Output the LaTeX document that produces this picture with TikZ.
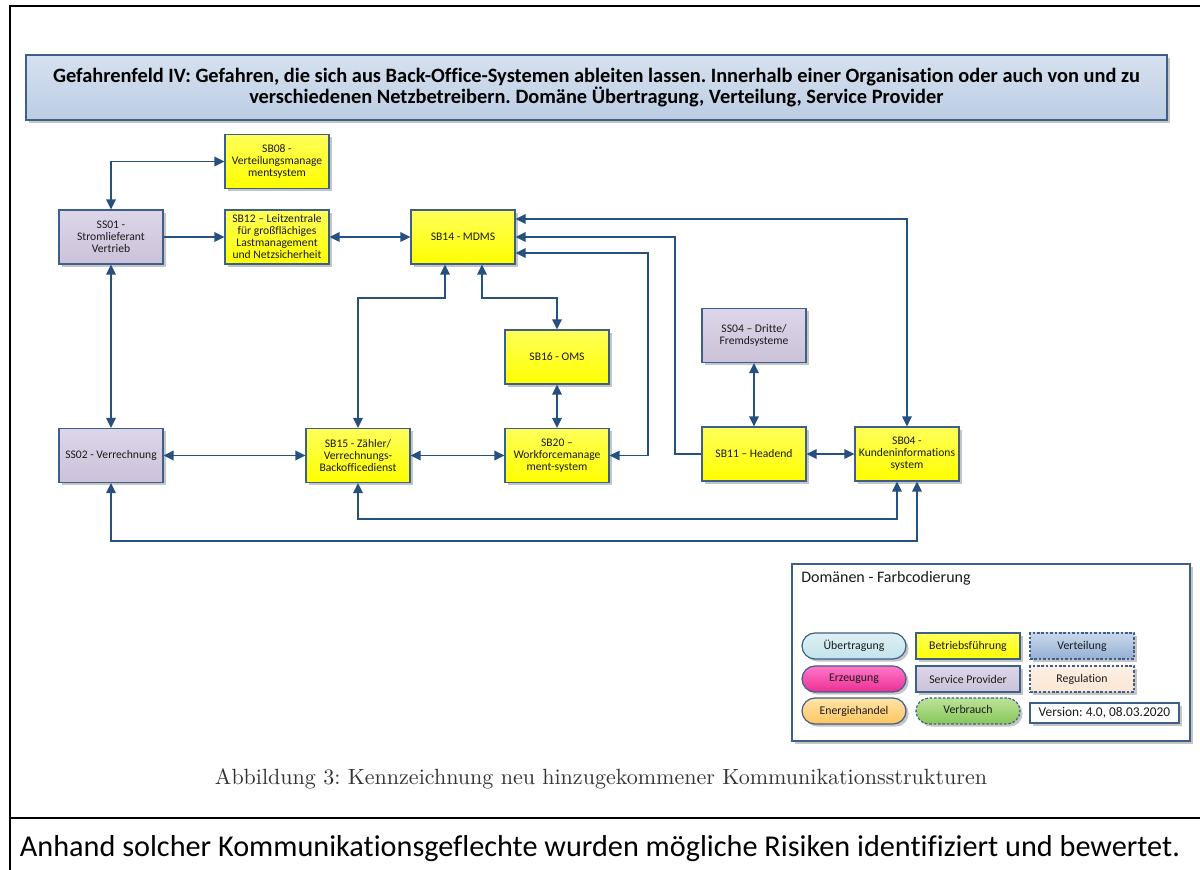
\documentclass[tikz,border=0pt]{standalone}
\usepackage{fontspec}
\usepackage{graphicx}
\usetikzlibrary{arrows.meta,shadows,calc}
\newfontfamily\calfont[Ligatures=NoCommon]{Carlito}
\frenchspacing

\definecolor{bordc}{HTML}{3E5F8A}
\definecolor{linkc}{HTML}{25507F}
\definecolor{txt}{HTML}{1A1A1A}
\definecolor{yelA}{HTML}{FFFF5A}
\definecolor{yelB}{HTML}{FFFF00}
\definecolor{lavA}{HTML}{DDD5E8}
\definecolor{lavB}{HTML}{CBC2D9}
\definecolor{ttlA}{HTML}{D5E1EF}
\definecolor{ttlB}{HTML}{BCCDE3}
\definecolor{uebA}{HTML}{DDF0F4}
\definecolor{uebB}{HTML}{C2E3EB}
\definecolor{erzA}{HTML}{FF78C8}
\definecolor{erzB}{HTML}{EC2F93}
\definecolor{eneA}{HTML}{FFE3A8}
\definecolor{eneB}{HTML}{FFC65E}
\definecolor{verA}{HTML}{BDE39A}
\definecolor{verB}{HTML}{88C65A}
\definecolor{vtlA}{HTML}{C9D8EB}
\definecolor{vtlB}{HTML}{94B0D4}
\definecolor{regA}{HTML}{FDF0E4}
\definecolor{regB}{HTML}{FBE6D4}

\tikzset{
  softshadow/.style={drop shadow={shadow xshift=1.3pt, shadow yshift=-1.3pt, fill=black!50, opacity=0.45}},
  box/.style={draw=bordc, line width=0.6pt, minimum width=52pt, minimum height=27pt,
    inner sep=1pt, align=center, text=txt, softshadow,
    font=\calfont\fontsize{5.8}{6}\selectfont},
  yel/.style={box, top color=yelA, bottom color=yelB},
  lav/.style={box, top color=lavA, bottom color=lavB},
  link/.style={draw=linkc, line width=0.8pt},
  tip/.tip={Triangle[length=5pt,width=4.8pt]},
  onearrow/.style={link, -tip},
  biarrow/.style={link, tip-tip},
  legitem/.style={draw=bordc, line width=0.6pt, minimum width=52pt, minimum height=13pt,
    inner sep=0pt, text=txt, softshadow, font=\calfont\fontsize{5.9}{6.5}\selectfont},
  pill/.style={legitem, rounded corners=6.5pt},
  dashedge/.style={dash pattern=on 1.3pt off 0.9pt},
  frameline/.style={draw=black, line width=1.1pt},
}

\begin{document}
\begin{tikzpicture}[x=0.5pt,y=-0.5pt]
\useasboundingbox (0,0) rectangle (1200,870);
\fill[white] (0,0) rectangle (1200,870);

% page frame
\draw[frameline] (1200,6) -- (10,6) -- (10,870);
\draw[frameline] (10,818) -- (1200,818);

% heading banner
\node[draw=bordc, line width=0.6pt, top color=ttlA, bottom color=ttlB, softshadow,
      minimum width=570.5pt, minimum height=32.5pt, align=center, text=black,
      font=\calfont\bfseries\fontsize{10.2}{10.6}\selectfont] (title) at (596.5,87.5)
  {Gefahrenfeld IV: Gefahren, die sich aus Back-Office-Systemen ableiten lassen. Innerhalb einer Organisation oder auch von und zu\\
   verschiedenen Netzbetreibern. Domäne Übertragung, Verteilung, Service Provider};

% systems
\node[yel] (SB08) at (277,161.5) {SB08 -\\Verteilungsmanage\\mentsystem};
\node[lav] (SS01) at (111,237) {SS01 -\\Stromlieferant\\Vertrieb};
\node[yel] (SB12) at (277,237) {SB12 – Leitzentrale\\für großflächiges\\Lastmanagement\\und Netzsicherheit};
\node[yel] (SB14) at (463,237) {SB14 - MDMS};
\node[yel] (SB16) at (557,357) {SB16 - OMS};
\node[lav] (SS04) at (754,335.5) {SS04 – Dritte/\\Fremdsysteme};
\node[lav] (SS02) at (111,455.5) {SS02 - Verrechnung};
\node[yel] (SB15) at (358,455.5) {SB15 - Zähler/\\Verrechnungs-\\Backofficedienst};
\node[yel] (SB20) at (557,455.5) {SB20 –\\Workforcemanage\\ment-system};
\node[yel] (SB11) at (754,454) {SB11 – Headend};
\node[yel] (SB04) at (907,454) {SB04 -\\Kundeninformations\\system};

% bend points
\coordinate (kA) at (445,298);
\coordinate (kB) at (482,298);
\coordinate (kC) at (648,253);
\coordinate (kD) at (675,237);
\coordinate (kE) at (358,519);
\coordinate (kF) at (111,541);

% connections
\draw[biarrow] (SS01.north) |- (SB08.west);
\draw[onearrow] (SS01.east) -- (SB12.west);
\draw[biarrow] (SB12.east) -- (SB14.west);
\draw[biarrow] (SS01.south) -- (SS02.north);
\draw[biarrow] (SS02.east) -- (SB15.west);
\draw[biarrow] (SB14.south -| kA) -- (kA) -| (SB15.north);
\draw[biarrow] (SB14.south -| kB) -- (kB) -| (SB16.north);
\draw[biarrow] (SB16.south) -- (SB20.north);
\draw[biarrow] (SB15.east) -- (SB20.west);
\draw[biarrow] (SB20.east) -| (kC) -- (SB14.east |- kC);
\draw[onearrow] (SB11.west) -| (kD) -- (SB14.east);
\draw[biarrow] (SB04.north) |- ([yshift=9pt]SB14.east);
\draw[biarrow] (SS04.south) -- (SB11.north);
\draw[biarrow] (SB11.east) -- (SB04.west);
\draw[biarrow] (SB15.south) -- (kE) -| ([xshift=-5pt]SB04.south);
\draw[biarrow] (SS02.south) -- (kF) -| ([xshift=5pt]SB04.south);

% colour legend
\node[draw=bordc, line width=0.6pt, fill=white, softshadow,
      minimum width=199pt, minimum height=88.5pt] (legend) at (991,652.5) {};
\node[anchor=west, text=txt, inner sep=0pt, font=\calfont\fontsize{8}{9}\selectfont] (legtitle) at (801,578) {Domänen - Farbcodierung};

\node[pill, top color=uebA, bottom color=uebB] (lUeb) at (854,646) {Übertragung};
\node[pill, top color=erzA, bottom color=erzB] (lErz) at (854,679) {Erzeugung};
\node[pill, top color=eneA, bottom color=eneB] (lEne) at (854,711) {Energiehandel};
\node[legitem, top color=yelA, bottom color=yelB] (lBet) at (968,646) {Betriebsführung};
\node[legitem, top color=lavA, bottom color=lavB] (lSP) at (968,679) {Service Provider};
\node[pill, dashedge, top color=verA, bottom color=verB] (lVer) at (968,711) {\raisebox{1.2pt}{Verbrauch}};
\node[legitem, dashedge, top color=vtlA, bottom color=vtlB] (lVtl) at (1082,646) {Verteilung};
\node[legitem, dashedge, top color=regA, bottom color=regB] (lReg) at (1082,679) {Regulation};
\node[legitem, fill=white, minimum width=74.5pt, minimum height=10pt,
      font=\calfont\fontsize{6.7}{7}\selectfont] (lVers) at (1104.5,713) {Version: 4.0, 08.03.2020};

% caption and body text
\node[text=black!80] (caption) at (601,779)
  {\resizebox{386pt}{!}{Abbildung 3: Kennzeichnung neu hinzugekommener Kommunikationsstrukturen}};
\node[text=black] (bodytext) at (600,849)
  {\resizebox{580pt}{!}{\calfont\fontsize{13}{15}\selectfont Anhand solcher Kommunikationsgeflechte wurden mögliche Risiken identifiziert und bewertet.}};
\end{tikzpicture}
\end{document}
